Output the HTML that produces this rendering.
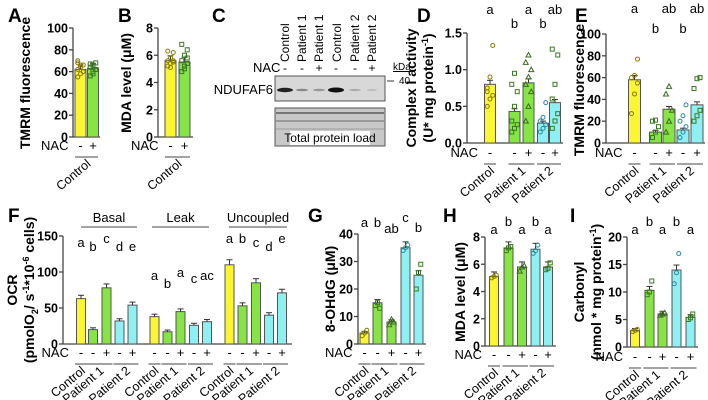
<!DOCTYPE html>
<html><head><meta charset="utf-8"><style>
body{margin:0;background:#fff}
svg{display:block;font-family:"Liberation Sans",sans-serif}
.t{font-size:12.5px;font-weight:bold}
.l{font-size:13px}
.g{font-size:12.5px}
.pl{font-size:19px;font-weight:bold}
.at{font-size:14px;font-weight:bold}
</style></head><body>
<svg id="fig" width="708" height="400" viewBox="0 0 708 400">
<text class="pl" x="8" y="22">A</text>
<text class="pl" x="118" y="22">B</text>
<text class="pl" x="212" y="22">C</text>
<text class="pl" x="417" y="22">D</text>
<text class="pl" x="575" y="22">E</text>
<text class="pl" x="8" y="222">F</text>
<text class="pl" x="308" y="222">G</text>
<text class="pl" x="443" y="222">H</text>
<text class="pl" x="570" y="222">I</text>
<g font-size="12">
<g text-anchor="start">
<text transform="translate(289,62) rotate(-90)">Control</text>
<text transform="translate(306,62) rotate(-90)">Patient 1</text>
<text transform="translate(323,62) rotate(-90)">Patient 1</text>
<text transform="translate(341,62) rotate(-90)">Control</text>
<text transform="translate(359,62) rotate(-90)">Patient 2</text>
<text transform="translate(376,62) rotate(-90)">Patient 2</text>
</g>
<text x="253" y="72" font-size="13">NAC</text>
<g font-size="12" text-anchor="middle"><text x="285" y="72">-</text><text x="302" y="72">-</text><text x="319" y="72">+</text><text x="336" y="72">-</text><text x="355" y="72">-</text><text x="372" y="72">+</text></g>
<text x="393" y="70" font-size="10" text-decoration="underline">kDa</text>
<line x1="387" y1="81" x2="394" y2="81" stroke="#333"/><text x="399" y="84" font-size="10">40</text>
<text x="273" y="94" font-size="13" text-anchor="end">NDUFAF6</text>
<rect x="275" y="76" width="110" height="25" fill="#d8d8d8" stroke="#555"/>
<ellipse cx="285" cy="90" rx="8" ry="2.2" fill="#222"/>
<ellipse cx="302" cy="90" rx="6" ry="1.3" fill="#888"/>
<ellipse cx="319" cy="90" rx="6" ry="1.3" fill="#999"/>
<ellipse cx="336" cy="90" rx="8" ry="2.5" fill="#111"/>
<ellipse cx="355" cy="90" rx="6" ry="1.1" fill="#aaa"/>
<ellipse cx="372" cy="90" rx="5" ry="1" fill="#bbb"/>
<rect x="275" y="108" width="110" height="38" fill="#c8c8c8" stroke="#555"/>
<line x1="276" y1="113" x2="384" y2="113" stroke="#777" stroke-width="2"/>
<line x1="276" y1="121" x2="384" y2="121" stroke="#999" stroke-width="2"/>
<line x1="276" y1="129" x2="384" y2="129" stroke="#aaa" stroke-width="1.5"/>
<rect x="290" y="131" width="80" height="14" fill="#fff"/>
<text x="330" y="142" font-size="12" text-anchor="middle">Total protein load</text>
</g>
<g id="charts"></g>
</svg>
<script>
const aValues=[62,63];
const aPoints=[[55,58,60,62,64,66,68,66,60,70],[56,60,62,64,66,68,67,58,62]];
const bValues=[5.6,5.5];
const bPoints=[[5.2,5.4,5.5,5.6,5.8,6.2,6.3,5.1,5.6],[4.8,5.0,5.4,5.6,6.0,6.4,6.8,5.2,5.8]];
const dValues=[0.8,0.43,0.82,0.27,0.55];
const dPoints=[[0.5,0.6,0.65,0.7,0.9,1.33,0.75],[0.15,0.2,0.25,0.3,0.5,0.7,0.8,0.95],[0.3,0.5,0.7,0.8,0.9,1.0,1.1,1.2],[0.15,0.2,0.25,0.3,0.35,0.55],[0.2,0.3,0.4,0.6,0.8,1.2,1.28]];
const dLetters=["a","b","a","b","ab"];
const eValues=[58,10,31,12,35];
const ePoints=[[27,45,55,60,62,77],[5,10,15,20,21],[10,20,30,45,52],[5,10,15,20,25,35],[20,25,30,50,59,60]];
const eLetters=["a","b","ab","b","ab"];
const fBasal=[63,20,78,32,54];
const fLeak=[38,17,45,26,31];
const fUncoupled=[110,53,85,40,71];
const fLetBasal=["a","b","c","d","e"];
const fLetLeak=["a","b","a","c","ac"];
const fLetUnc=["a","b","c","d","e"];
const gValues=[4,15,8,35,25];
const gPoints=[[3,4,5],[14,15,13],[7,9,8],[34,35,36],[20,26,29]];
const gLetters=["a","b","ab","c","b"];
const hValues=[5.1,7.2,5.8,7.1,5.8];
const hPoints=[[5.0,5.1,5.2],[7.0,7.2,7.3],[5.5,5.8,5.9],[6.8,7.0,7.4],[5.6,5.7,6.1]];
const hLetters=["a","b","a","b","a"];
const iValues=[3,10.3,6,14,5.4];
const iPoints=[[2.8,3,3.2],[9.5,10,12],[5.8,6,6.2],[11.5,13.5,17],[5,5.3,6]];
const iLetters=["a","b","a","b","a"];

const Y="#fbf532",G="#86e444",C="#8ef0f2";
const NS="http://www.w3.org/2000/svg";
const root=document.getElementById('charts');
function el(tag,attrs,parent,txt){const e=document.createElementNS(NS,tag);for(const k in attrs)e.setAttribute(k,attrs[k]);if(txt!==undefined)e.textContent=txt;(parent||root).appendChild(e);return e;}

function axis(p){
  const g=el('g',{});
  
  
  const sy=v=>p.yb-(v/p.max)*(p.yb-p.yt);
  el('line',{x1:p.ax,y1:p.yt,x2:p.ax,y2:p.yb,stroke:'#444','stroke-width':1.3},g);
  el('line',{x1:p.ax,y1:p.yb,x2:p.xEnd,y2:p.yb,stroke:'#444','stroke-width':1.3},g);
  p.ticks.forEach(t=>{
    el('line',{x1:p.ax-4,y1:sy(t),x2:p.ax,y2:sy(t),stroke:'#444','stroke-width':1.3},g);
    const tx=el('text',{x:p.ax-5,y:sy(t)+4.5,'text-anchor':'end',class:'t'},g,p.fmt?p.fmt(t):t);
    
    
  });
  return sy;
}
function bars(p,sy,centers,values,colors,w,points,shapes){
  centers.forEach((cx,i)=>{
    const r=el('rect',{x:cx-w/2,y:sy(values[i]),width:w,height:p.yb-sy(values[i]),fill:colors[i],stroke:'#555','stroke-width':1});
    
    
    const e=values[i]*0.05+p.max*0.01;
    el('line',{x1:cx,y1:sy(values[i]),x2:cx,y2:sy(values[i]+e),stroke:'#333'});
    el('line',{x1:cx-3,y1:sy(values[i]+e),x2:cx+3,y2:sy(values[i]+e),stroke:'#333'});
    if(points){points[i].forEach((v,j)=>{
      const px=cx+((j%3)-1)*w*0.25, py=sy(v);
      const sh=shapes?shapes[i]:'c';
      let m;
      if(sh==='s')m=el('rect',{x:px-2,y:py-2,width:4,height:4,fill:'none',stroke:'#3a7a20','stroke-width':1});
      else if(sh==='t')m=el('path',{d:`M${px},${py-2.5}L${px+2.5},${py+2}L${px-2.5},${py+2}Z`,fill:'none',stroke:'#3a6a20','stroke-width':1});
      else m=el('circle',{cx:px,cy:py,r:2,fill:'none',stroke:colors[i]===C?'#2a8a9a':(colors[i]===Y?'#8a7a00':'#3a7a20'),'stroke-width':1});
      
      
    });}
  });
}
function nac(p,centers,signs,y,groups,showLabel){
  if(showLabel!==false){
    const t=el('text',{x:centers[0]-12,y:y,'text-anchor':'end',class:'l'},null,'NAC');
    
    
  }
  centers.forEach((c,i)=>el('text',{x:c,y:y,'text-anchor':'middle',class:'l'},null,signs[i]));
  groups.forEach(gr=>{
    el('line',{x1:gr.x1,y1:y+7,x2:gr.x2,y2:y+7,stroke:'#444'});
    const tx=el('text',{transform:`translate(${(gr.x1+gr.x2)/2+5},${y+15}) rotate(-40)`,'text-anchor':'end',class:'g'},null,gr.label);
    
    
  });
}
function letters(centers,ls,ys){
  centers.forEach((c,i)=>{const t=el('text',{x:c,y:ys[i],'text-anchor':'middle',class:'l'},null,ls[i]);
    
    });
}
function ytitle(x,y,lines,name){
  const t=el('text',{transform:`translate(${x},${y}) rotate(-90)`,'text-anchor':'middle',class:'at'});
  
  
  lines.forEach((ln,i)=>{const s=el('tspan',{x:0,dy:i?17:0},t);s.innerHTML=ln;});
}
const five=[Y,G,G,C,C], sh5=['c','s','t','c','s'];
const std3=(c)=>[{x1:c[0]-6,x2:c[0]+6,label:'Control'},{x1:c[1]-6,x2:c[2]+6,label:'Patient 1'},{x1:c[3]-6,x2:c[4]+6,label:'Patient 2'}];

let p={name:'a',ax:73,yt:28,yb:137,max:100,ticks:[0,20,40,60,80,100],xEnd:100};
let sy=axis(p);let cA=[80.5,93];
bars(p,sy,cA,aValues,[Y,G],11,aPoints,['c','s']);
nac(p,cA,['-','+'],150,[{x1:75,x2:98,label:'Control'}]);
ytitle(30,83,['TMRM fluorescence'],'a-y-axis-title');

p={name:'b',ax:158,yt:28,yb:137,max:8,ticks:[0,2,4,6,8],xEnd:193};
sy=axis(p);let cB=[170.5,184.5];
bars(p,sy,cB,bValues,[Y,G],11,bPoints,['c','s']);
nac(p,cB,['-','+'],150,[{x1:165,x2:190,label:'Control'}]);
ytitle(131,83,['MDA level (μM)'],'b-y-axis-title');

p={name:'d',ax:467,yt:33,yb:143,max:1.5,ticks:[0,0.5,1,1.5],fmt:v=>v.toFixed(1),xEnd:563};
sy=axis(p);let cD=[490,514.5,528.5,543,555];
bars(p,sy,cD,dValues,five,11,dPoints,sh5);
nac(p,cD,['-','-','+','-','+'],157,std3(cD));
letters(cD,dLetters,[14,28,14,28,14]);
ytitle(416,88,['Complex I activity','(U* mg protein<tspan font-size="9" dy="-5">-1</tspan><tspan dy="5">)</tspan>'],'d-y-axis-title');

p={name:'e',ax:606,yt:34,yb:143,max:100,ticks:[0,20,40,60,80,100],xEnd:705};
sy=axis(p);let cE=[634.5,655.5,669,683,697];
bars(p,sy,cE,eValues,five,12,ePoints,sh5);
nac(p,cE,['-','-','+','-','+'],157,std3(cE));
letters(cE,eLetters,[13,33,13,33,13]);
ytitle(584,90,['TMRM fluorescence'],'e-y-axis-title');

p={name:'f',ax:63,yt:236,yb:344,max:150,ticks:[0,50,100,150],xEnd:292};
sy=axis(p);
const cF1=[81,93,106.5,119.5,132.5],cF2=[154.5,167.5,180.5,194,207],cF3=[229.5,242.5,256,269,282];
bars(p,sy,cF1,fBasal,five,9,null);bars(p,sy,cF2,fLeak,five,9,null);bars(p,sy,cF3,fUncoupled,five,9,null);
nac(p,cF1,['-','-','+','-','+'],357,std3(cF1),true);
nac(p,cF2,['-','-','+','-','+'],357,std3(cF2),false);
nac(p,cF3,['-','-','+','-','+'],357,std3(cF3),false);
letters(cF1,fLetBasal,[247,251,243,251,251]);
letters(cF2,fLetLeak,[280,288,277,283,280]);
letters(cF3,fLetUnc,[243,243,247,251,243]);
[[81,137,'Basal'],[152,209,'Leak'],[229,287,'Uncoupled']].forEach(g=>{
  el('line',{x1:g[0],y1:227,x2:g[1],y2:227,stroke:'#444'});
  const t=el('text',{x:(g[0]+g[1])/2,y:222,'text-anchor':'middle',class:'l'},null,g[2]);
  
  
});
ytitle(17,290,['OCR','(pmolO<tspan font-size="9" dy="4">2</tspan><tspan dy="-4">/ s</tspan><tspan font-size="9" dy="-5">-1</tspan><tspan dy="5">*10</tspan><tspan font-size="9" dy="-5">-6</tspan><tspan dy="5"> cells)</tspan>'],'f-y-axis-title');

p={name:'g',ax:358,yt:234,yb:344,max:40,ticks:[0,10,20,30,40],xEnd:426};
sy=axis(p);let cG=[364.5,377.5,391.5,405.5,418.5];
bars(p,sy,cG,gValues,five,9,gPoints,sh5);
nac(p,cG,['-','-','+','-','+'],357,std3(cG));
letters(cG,gLetters,[227,227,233,222,232]);
ytitle(335,289,['8-OHdG (μM)'],'g-y-axis-title');

p={name:'h',ax:485,yt:237,yb:346,max:8,ticks:[0,2,4,6,8],xEnd:556};
sy=axis(p);let cH=[494,508.5,522,535.5,548];
bars(p,sy,cH,hValues,five,9,hPoints,sh5);
nac(p,cH,['-','-','+','-','+'],359,std3(cH));
letters(cH,hLetters,[234,226,234,226,234]);
ytitle(465,292,['MDA level (μM)'],'h-y-axis-title');

p={name:'i',ax:627,yt:237,yb:347,max:20,ticks:[0,5,10,15,20],xEnd:698};
sy=axis(p);let cI=[635,649.5,662.5,676.5,690.5];
bars(p,sy,cI,iValues,five,9,iPoints,sh5);
nac(p,cI,['-','-','+','-','+'],361,std3(cI));
letters(cI,iLetters,[234,226,234,226,234]);
ytitle(584,292,['Carbonyl','(nmol * mg protein<tspan font-size="9" dy="-5">-1</tspan><tspan dy="5">)</tspan>'],'i-y-axis-title');
</script>
</body></html>
